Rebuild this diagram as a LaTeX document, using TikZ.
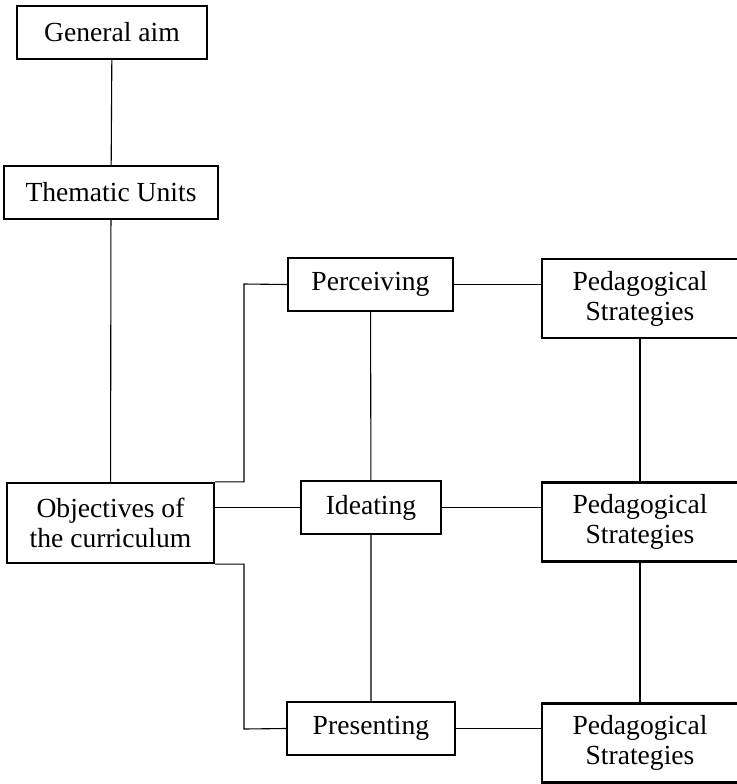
\documentclass[tikz,border=0pt]{standalone}
\usepackage{fontspec}
\setmainfont{Liberation Serif}
\usetikzlibrary{calc}

\begin{document}
\begin{tikzpicture}[x=0.5pt,y=-0.5pt,
    box/.style={draw,line width=1.1pt,inner sep=0pt,align=center,font=\fontsize{13.8}{15}\selectfont},
    link/.style={line width=0.55pt}]
    \useasboundingbox (0,0) rectangle (736,784);
    % left column
    \node[box,minimum width=95pt,minimum height=26.5pt] (aim) at (112,32.5) {General aim};
    \node[box,minimum width=107pt,minimum height=26.5pt] (units) at (111,192.5) {Thematic Units};
    \node[box,minimum width=103.5pt,minimum height=40pt] (obj) at (110.5,523) {Objectives of\\the curriculum};
    % middle column
    \node[box,minimum width=82.5pt,minimum height=26.5pt] (perc) at (370.5,284.5) {Perceiving};
    \node[box,minimum width=70pt,minimum height=26.5pt] (ideat) at (371,507.5) {Ideating};
    \node[box,minimum width=84pt,minimum height=26.5pt] (pres) at (371,728.5) {Presenting};
    % right column (cut off at the right edge)
    \node[box,minimum width=98pt,minimum height=39.5pt] (pedA) at (640,298.5) {Pedagogical\\Strategies};
    \node[box,minimum width=98pt,minimum height=39.5pt] (pedB) at (640,522) {Pedagogical\\Strategies};
    \node[box,minimum width=98pt,minimum height=39.5pt] (pedC) at (640,743) {Pedagogical\\Strategies};
    \coordinate (bendA) at (244,284);
    \coordinate (bendB) at (244,729);
    \draw[link] (aim) -- (units) -- (obj);
    \draw[link] (perc) -- (ideat) -- (pres);
    \draw[link] (pedA) -- (pedB) -- (pedC);
    \draw[link] (perc.west) -- (bendA) -- (bendA |- obj.north) -- (obj.north east);
    \draw[link] (ideat.west) -- (ideat.west -| obj.east);
    \draw[link] (obj.south east) -- (bendB |- obj.south) -- (bendB) -- (pres.west);
    \draw[link] (perc.east) -- (perc.east -| pedA.west);
    \draw[link] (ideat.east) -- (ideat.east -| pedB.west);
    \draw[link] (pres.east) -- (pres.east -| pedC.west);
\end{tikzpicture}
\end{document}
